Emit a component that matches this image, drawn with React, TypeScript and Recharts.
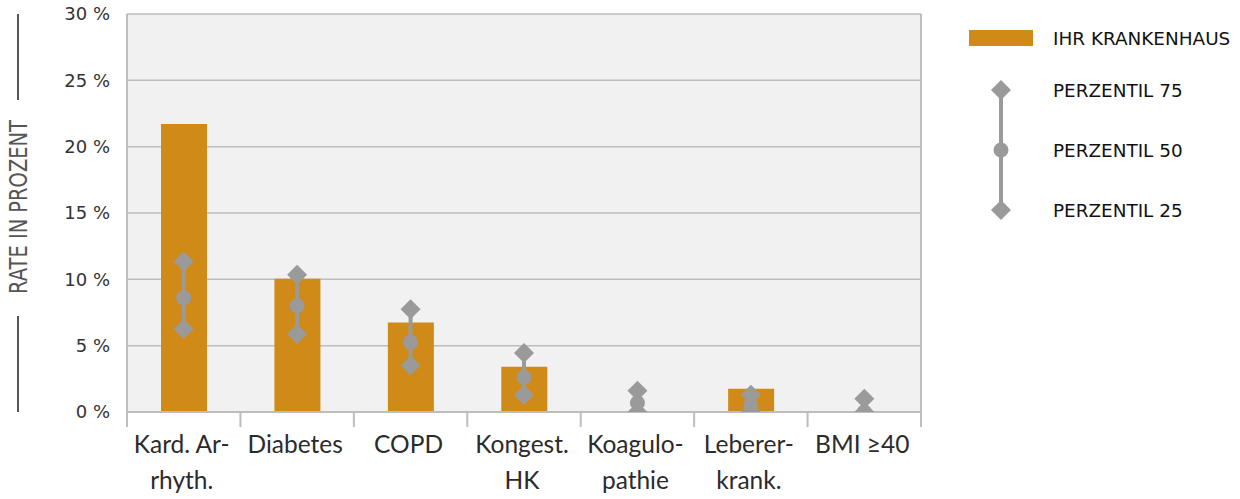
import React from 'react';
import { ComposedChart, Bar, Line, ErrorBar, XAxis, YAxis, CartesianGrid, Legend } from 'recharts';

// --- Data ---
const categories = ['Kard. Ar-\nrhyth.', 'Diabetes', 'COPD', 'Kongest.\nHK', 'Koagulo-\npathie', 'Leberer-\nkrank.', 'BMI ≥40'];
const hospitalRate = [21.7, 10.05, 6.75, 3.42, 0, 1.75, 0];
const perc75 = [11.35, 10.35, 7.75, 4.45, 1.6, 1.3, 1.0];
const perc50 = [8.6, 8.0, 5.27, 2.62, 0.7, 0.5, 0];
const perc25 = [6.25, 5.88, 3.5, 1.28, 0, 0, 0];
const yTicks = [0, 5, 10, 15, 20, 25, 30];

const seriesNames = {
  rate: 'IHR KRANKENHAUS',
  p75: 'PERZENTIL 75',
  p50: 'PERZENTIL 50',
  p25: 'PERZENTIL 25',
};

const ORANGE = '#CF8A18';
const MARKER = '#9a9a9a';
const GRID = '#bdbdbd';

const chartData = categories.map((name, i) => ({
  name,
  rate: hospitalRate[i],
  p75: perc75[i],
  p50: perc50[i],
  p25: perc25[i],
  // error bar around the median: [down to p25, up to p75]
  spread: [perc50[i] - perc25[i], perc75[i] - perc50[i]],
}));

const Diamond = ({ cx, cy, size = 10 }: { cx: number; cy: number; size?: number }) => (
  <path d={`M${cx},${cy - size} L${cx + size},${cy} L${cx},${cy + size} L${cx - size},${cy} Z`} fill={MARKER} />
);

const renderDiamond = (props: any) => {
  const { cx, cy, key, index } = props;
  if (cx == null || cy == null) return <g key={key ?? index} />;
  return <Diamond key={key ?? index} cx={cx} cy={cy} />;
};

const renderCircle = (props: any) => {
  const { cx, cy, key, index } = props;
  if (cx == null || cy == null) return <g key={key ?? index} />;
  return <circle key={key ?? index} cx={cx} cy={cy} r={7.5} fill={MARKER} />;
};

const CategoryTick = (props: any) => {
  const { x, y, payload, index } = props;
  const half = payload?.offset ?? 56.7;
  const lines = String(payload.value).split('\n');
  return (
    <g>
      <line x1={x - half} x2={x - half} y1={y} y2={y + 15} stroke={GRID} strokeWidth={2} />
      {index === categories.length - 1 && (
        <line x1={x + half} x2={x + half} y1={y} y2={y + 15} stroke={GRID} strokeWidth={2} />
      )}
      <text textAnchor="middle" fontFamily="Lato" fontSize={24.5} fill="#2b2b2b">
        {lines.map((l, i) => (
          <tspan key={i} x={x - 2} y={y + 41 + i * 36}>{l}</tspan>
        ))}
      </text>
    </g>
  );
};

const YTitle = (props: any) => {
  const { viewBox } = props;
  const cy = viewBox.y + viewBox.height / 2;
  return (
    <g>
      <line x1={18} x2={18} y1={viewBox.y} y2={cy - 113} stroke="#555" strokeWidth={2} />
      <line x1={18} x2={18} y1={cy + 103} y2={viewBox.y + viewBox.height} stroke="#555" strokeWidth={2} />
      <text
        x={27}
        y={cy - 6}
        transform={`rotate(-90, 27, ${cy - 6})`}
        textAnchor="middle"
        fontFamily="DejaVu Sans"
        fontSize={24}
        textLength={174}
        lengthAdjust="spacingAndGlyphs"
        fill="#555"
      >
        RATE IN PROZENT
      </text>
    </g>
  );
};

const renderLegend = () => (
  <svg width={280} height={240}>
    <rect x={9} y={30} width={64} height={16} fill={ORANGE} />
    <text x={93} y={38} dominantBaseline="central" fontFamily="DejaVu Sans" fontSize={18.4} fill="#111">{seriesNames.rate}</text>
    <line x1={41} x2={41} y1={90} y2={210} stroke={MARKER} strokeWidth={4} />
    <Diamond cx={41} cy={90} />
    <circle cx={41} cy={150} r={7.5} fill={MARKER} />
    <Diamond cx={41} cy={210} />
    <text x={93} y={90} dominantBaseline="central" fontFamily="DejaVu Sans" fontSize={18.4} fill="#111">{seriesNames.p75}</text>
    <text x={93} y={150} dominantBaseline="central" fontFamily="DejaVu Sans" fontSize={18.4} fill="#111">{seriesNames.p50}</text>
    <text x={93} y={210} dominantBaseline="central" fontFamily="DejaVu Sans" fontSize={18.4} fill="#111">{seriesNames.p25}</text>
  </svg>
);

const App = () => {
  return (
    <div style={{ width: 1240, height: 499, position: 'relative', background: '#fff' }}>
      <style>{'body { margin: 0; }'}</style>
      <ComposedChart width={1240} height={499} data={chartData} margin={{ top: 14, right: 318, left: 0, bottom: 0 }}>
        <CartesianGrid vertical={false} stroke={GRID} strokeWidth={1.5} fill="#f1f1f1" />
        <XAxis
          dataKey="name"
          height={87}
          interval={0}
          tickSize={0}
          tickMargin={0}
          tickLine={false}
          axisLine={{ stroke: GRID, strokeWidth: 2 }}
          tick={<CategoryTick />}
        />
        <YAxis
          domain={[0, 30]}
          ticks={yTicks}
          allowDataOverflow
          width={127}
          tickLine={false}
          tickMargin={11}
          axisLine={{ stroke: GRID, strokeWidth: 2 }}
          tickFormatter={(v: number) => `${v} %`}
          tick={{ fontFamily: 'DejaVu Sans', fontSize: 18, fill: '#333' }}
          label={{ content: <YTitle /> }}
        />
        <YAxis
          yAxisId="right"
          orientation="right"
          domain={[0, 30]}
          width={1}
          tick={false}
          tickLine={false}
          axisLine={{ stroke: GRID, strokeWidth: 2 }}
        />
        <Legend
          layout="vertical"
          align="center"
          verticalAlign="middle"
          content={renderLegend}
          wrapperStyle={{ position: 'absolute', left: 960, top: 0, width: 280, height: 240 }}
        />
        <Bar dataKey="rate" name={seriesNames.rate} fill={ORANGE} barSize={46} isAnimationActive={false} />
        <Line
          dataKey="p50"
          name={seriesNames.p50}
          stroke="none"
          dot={renderCircle}
          activeDot={false}
          isAnimationActive={false}
        >
          <ErrorBar dataKey="spread" direction="y" width={0} stroke={MARKER} strokeWidth={4} isAnimationActive={false} />
        </Line>
        <Line dataKey="p75" name={seriesNames.p75} stroke="none" dot={renderDiamond} activeDot={false} isAnimationActive={false} />
        <Line dataKey="p25" name={seriesNames.p25} stroke="none" dot={renderDiamond} activeDot={false} isAnimationActive={false} />
      </ComposedChart>
    </div>
  );
};

export default App;
